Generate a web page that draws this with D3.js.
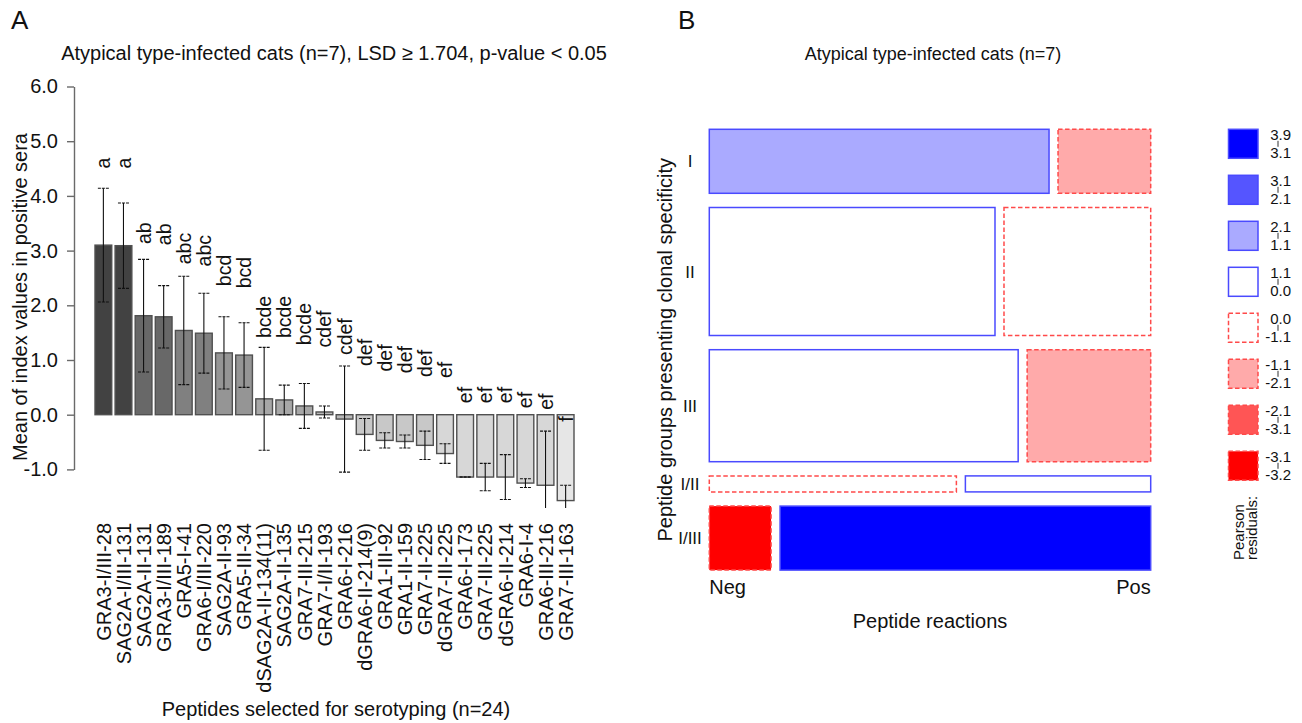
<!DOCTYPE html>
<html><head><meta charset="utf-8">
<script src="https://cdn.jsdelivr.net/npm/d3@7"></script>
<style>
body{margin:0;background:#fff}
svg{display:block}
text{font-family:"Liberation Sans",Arial,Helvetica,sans-serif;fill:#111}
</style>
</head><body>
<svg id="c" width="1302" height="723"></svg>
<script>
// ---------- Panel A data ----------
const peptides = ["GRA3-I/III-28","SAG2A-I/III-131","SAG2A-II-131","GRA3-I/III-189","GRA5-I-41","GRA6-I/III-220","SAG2A-II-93","GRA5-III-34","dSAG2A-II-134(11)","SAG2A-II-135","GRA7-III-215","GRA7-I/II-193","GRA6-I-216","dGRA6-II-214(9)","GRA1-III-92","GRA1-II-159","GRA7-II-225","dGRA7-III-225","GRA6-I-173","GRA7-III-225","dGRA6-II-214","GRA6-I-4","GRA6-III-216","GRA7-III-163"];
const means = [3.10,3.09,1.81,1.79,1.54,1.49,1.13,1.09,0.29,0.27,0.16,0.05,-0.08,-0.36,-0.47,-0.49,-0.56,-0.71,-1.14,-1.14,-1.14,-1.25,-1.29,-1.57];
const errs  = [1.04,0.78,1.03,0.57,0.99,0.73,0.66,0.59,0.94,0.27,0.41,0.11,0.97,0.29,0.14,0.12,0.26,0.18,0.00,0.25,0.41,0.08,0.99,0.28];
const letters = ["a","a","ab","ab","abc","abc","bcd","bcd","bcde","bcde","bcde","cdef","cdef","def","def","def","def","ef","ef","ef","ef","ef","ef","f"];
const letterY = [4.50,4.50,3.12,3.10,2.75,2.71,2.35,2.31,1.40,1.40,1.27,1.23,1.09,0.89,0.79,0.76,0.69,0.67,0.21,0.21,0.21,0.12,0.09,-0.13];
const yTicks = [-1,0,1,2,3,4,5,6];
const titleA = "Atypical type-infected cats (n=7), LSD \u2265 1.704, p-value < 0.05";

// ---------- Panel B data ----------
const groups = ["I","II","III","I/II","I/III"];
const reactions = ["Neg","Pos"];
const negCounts = [22,37,35,4,4];
const posCounts = [6,19,14,3,24];
const legendBreaks = [3.9,3.1,2.1,1.1,0.0,-1.1,-2.1,-3.1,-3.2];
const titleB = "Atypical type-infected cats (n=7)";

const svg = d3.select("#c");

// ================= PANEL A =================
const gA = svg.append("g");
const x = d3.scaleBand().domain(peptides).range([95,574]).paddingInner(1/6).paddingOuter(0);
const y = d3.scaleLinear().domain([-1,6]).range([469.4,86.5]);

const groupNames = Array.from(new Set(letters));
const shade = d3.scalePow().exponent(0.7).domain([0, groupNames.length-1]).range([0x42,0xe6]);
const fillOf = i => { const v = Math.round(shade(groupNames.indexOf(letters[i]))); return d3.rgb(v,v,v).formatHex(); };

svg.append("defs").append("clipPath").attr("id","clipA")
  .append("rect").attr("x",60).attr("y",60).attr("width",560).attr("height",448);

const plotA = gA.append("g").attr("clip-path","url(#clipA)");

plotA.selectAll("rect.bar").data(peptides).join("rect")
  .attr("class","bar")
  .attr("x", d=>x(d))
  .attr("width", x.bandwidth())
  .attr("y", (d,i)=>y(Math.max(0,means[i])))
  .attr("height",(d,i)=>Math.abs(y(means[i])-y(0)))
  .attr("fill",(d,i)=>fillOf(i))
  .attr("stroke","#505050").attr("stroke-width",1.4);

// error bars
const eb = plotA.selectAll("g.eb").data(peptides).join("g").attr("class","eb");
eb.append("line")
  .attr("x1",d=>x(d)+x.bandwidth()/2).attr("x2",d=>x(d)+x.bandwidth()/2)
  .attr("y1",(d,i)=>y(means[i]-errs[i])).attr("y2",(d,i)=>y(means[i]+errs[i]))
  .attr("stroke","#111").attr("stroke-width",1.1);
[1,-1].forEach(s=>{
  eb.append("line")
    .attr("x1",d=>x(d)+x.bandwidth()/2-5.5).attr("x2",d=>x(d)+x.bandwidth()/2+5.5)
    .attr("y1",(d,i)=>y(means[i]+s*errs[i])).attr("y2",(d,i)=>y(means[i]+s*errs[i]))
    .attr("stroke","#111").attr("stroke-width",1.1).attr("stroke-dasharray","3,1");
});

// significance letters
gA.selectAll("text.let").data(peptides).join("text")
  .attr("class","let")
  .attr("transform",(d,i)=>`translate(${x(d)+x.bandwidth()/2},${y(letterY[i])}) rotate(-90)`)
  .attr("dy","0.36em").attr("text-anchor","start")
  .style("font-size","19.5px")
  .text((d,i)=>letters[i]);

// y axis
const yAxis = d3.axisLeft(y).tickValues(yTicks).tickFormat(d=>d.toFixed(1)).tickSize(7).tickSizeOuter(0).tickPadding(9);
const ga = gA.append("g").attr("transform","translate(74,0)").call(yAxis);
ga.select(".domain").attr("stroke","#6a6a6a").attr("stroke-width",1.4);
ga.selectAll(".tick line").attr("stroke","#6a6a6a").attr("stroke-width",1.4);
ga.selectAll(".tick text").style("font-size","20px").attr("fill","#111").style("font-family","Liberation Sans, Arial, sans-serif");

// x labels
gA.selectAll("text.xl").data(peptides).join("text")
  .attr("class","xl")
  .attr("transform",d=>`translate(${x(d)+x.bandwidth()/2},523) rotate(-90)`)
  .attr("dy","0.36em").attr("text-anchor","end")
  .style("font-size","20px")
  .text(d=>d);

gA.append("text").attr("x",336).attr("y",716).attr("text-anchor","middle").style("font-size","20px")
  .text("Peptides selected for serotyping (n=24)");
gA.append("text").attr("transform","translate(20,297) rotate(-90)").attr("dy","0.36em")
  .attr("text-anchor","middle").style("font-size","20px").text("Mean of index values in positive sera");
gA.append("text").attr("x",334).attr("y",60).attr("text-anchor","middle").style("font-size","20px").text(titleA);
gA.append("text").attr("x",11).attr("y",29).style("font-size","26px").text("A");

// ================= PANEL B =================
const gB = svg.append("g");
const mLeft = 709.3, mRight = 1150.7, mTop = 129.3, mBottom = 570.1;
const rowGap = 14.2, colGap = 9;
const rowTotals = groups.map((g,i)=>negCounts[i]+posCounts[i]);
const total = d3.sum(rowTotals);
const colTotals = [d3.sum(negCounts), d3.sum(posCounts)];
const hScale = d3.scaleLinear().domain([0,total]).range([0, mBottom-mTop-rowGap*(groups.length-1)]);

const cells = [];
let cum = 0;
groups.forEach((g,i)=>{
  const y0 = mTop + hScale(cum) + i*rowGap;
  const h = hScale(rowTotals[i]);
  const wScale = d3.scaleLinear().domain([0,rowTotals[i]]).range([0, mRight-mLeft-colGap]);
  const counts = [negCounts[i], posCounts[i]];
  let cx = 0;
  counts.forEach((c,j)=>{
    const e = rowTotals[i]*colTotals[j]/total;
    const res = (c-e)/Math.sqrt(e);
    cells.push({g, r:reactions[j], x:mLeft + wScale(cx) + j*colGap, w:wScale(c), y:y0, h, res});
    cx += c;
  });
  cum += rowTotals[i];
});

function fillRes(r){
  if (r > 3.1) return "#0000ff";
  if (r > 2.1) return "#5555ff";
  if (r > 1.1) return "#aaaaff";
  if (r > -1.1) return "#ffffff";
  if (r > -2.1) return "#ffaaaa";
  if (r > -3.1) return "#ff5555";
  return "#ff0000";
}
const borderRes = r => r >= 0 ? "#4a4aff" : "#ff4a4a";
const dashRes = r => r >= 0 ? null : "4.5,2.5";

gB.selectAll("rect.cell").data(cells).join("rect")
  .attr("class","cell")
  .attr("x",d=>d.x).attr("y",d=>d.y).attr("width",d=>d.w).attr("height",d=>d.h)
  .attr("fill",d=>fillRes(d.res)).attr("stroke",d=>borderRes(d.res))
  .attr("stroke-width",1.5).attr("stroke-dasharray",d=>dashRes(d.res));

// row labels (horizontal)
const rowCenters = groups.map((g,i)=>{ const c = cells.find(d=>d.g===g); return c.y + c.h/2; });
gB.selectAll("text.rl").data(groups).join("text")
  .attr("class","rl")
  .attr("x",690).attr("y",(d,i)=>rowCenters[i])
  .attr("dy","0.36em").attr("text-anchor","middle").style("font-size","17px")
  .text(d=>d);

gB.append("text").attr("x",mLeft).attr("y",594).style("font-size","20px").text(reactions[0]);
gB.append("text").attr("x",mRight).attr("y",594).attr("text-anchor","end").style("font-size","20px").text(reactions[1]);
gB.append("text").attr("x",(mLeft+mRight)/2).attr("y",628).attr("text-anchor","middle").style("font-size","20px").text("Peptide reactions");
gB.append("text").attr("transform",`translate(665,${(mTop+mBottom)/2}) rotate(-90)`).attr("dy","0.36em")
  .attr("text-anchor","middle").style("font-size","20px").text("Peptide groups presenting clonal specificity");
gB.append("text").attr("x",933).attr("y",60).attr("text-anchor","middle").style("font-size","18px").text(titleB);
gB.append("text").attr("x",678).attr("y",29).style("font-size","26px").text("B");

// legend
const lg = gB.append("g");
const legendItems = d3.range(legendBreaks.length-1).map(i=>({hi:legendBreaks[i], lo:legendBreaks[i+1], mid:(legendBreaks[i]+legendBreaks[i+1])/2}));
const ly = d3.scaleLinear().domain([0,1]).range([129.3,175.3]);
const lgi = lg.selectAll("g").data(legendItems).join("g").attr("transform",(d,i)=>`translate(0,${ly(i)})`);
lgi.append("rect").attr("x",1228.5).attr("y",0).attr("width",29.5).attr("height",29)
  .attr("fill",d=>fillRes(d.mid)).attr("stroke",d=>borderRes(d.mid))
  .attr("stroke-width",1.5).attr("stroke-dasharray",d=>dashRes(d.mid));
lgi.append("text").attr("x",1291).attr("y",11).attr("text-anchor","end").style("font-size","15px").text(d=>d.hi.toFixed(1));
lgi.append("text").attr("x",1291).attr("y",29).attr("text-anchor","end").style("font-size","15px").text(d=>d.lo.toFixed(1));
lgi.append("line").attr("x1",1278).attr("x2",1278).attr("y1",11.5).attr("y2",17.5).attr("stroke","#333").attr("stroke-width",1);
lg.append("text").attr("transform","translate(1239,560) rotate(-90)").attr("dy","0.36em").style("font-size","15px").text("Pearson");
lg.append("text").attr("transform","translate(1251.5,560) rotate(-90)").attr("dy","0.36em").style("font-size","15px").text("residuals:");
</script>
</body></html>
